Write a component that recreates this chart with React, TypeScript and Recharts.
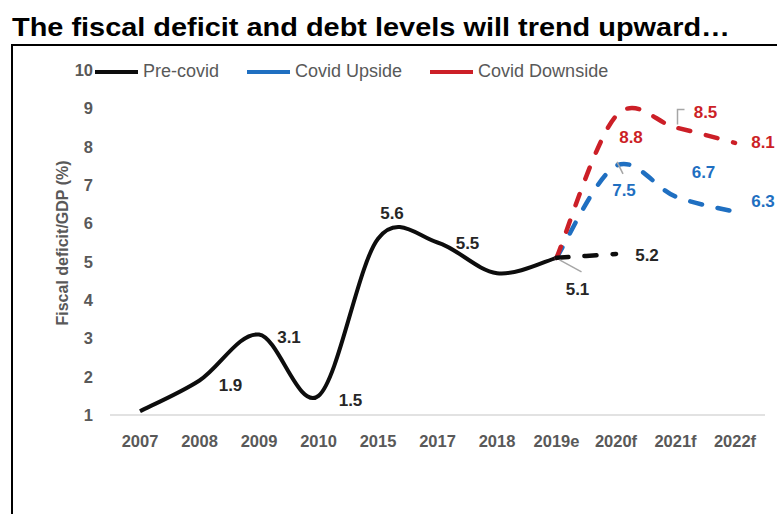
import { LineChart, Line, XAxis, YAxis, LabelList } from 'recharts'

const YEARS = ['2007', '2008', '2009', '2010', '2015', '2017', '2018', '2019e', '2020f', '2021f', '2022f']
const PRE_COVID = [1.1, 1.9, 3.1, 1.5, 5.6, 5.5, 4.7, 5.1, null, null, null]
const PRE_COVID_PROJ = [null, null, null, null, null, null, null, 5.1, 5.2, null, null]
const COVID_UPSIDE = [null, null, null, null, null, null, null, 5.1, 7.5, 6.7, 6.3]
const COVID_DOWNSIDE = [null, null, null, null, null, null, null, 5.1, 8.8, 8.5, 8.1]
const Y_TICKS = [1, 2, 3, 4, 5, 6, 7, 8, 9, 10]

const BLACK = '#0d0d0d'
const BLUE = '#1f6fc1'
const RED = '#cc1f27'
const GREY = '#595959'
const FONT = '"Liberation Sans", Arial, sans-serif'

const LEGEND = [
  { name: 'Pre-covid', color: BLACK },
  { name: 'Covid Upside', color: BLUE },
  { name: 'Covid Downside', color: RED },
]

const data = YEARS.map((year, i) => ({
  year,
  pre: PRE_COVID[i],
  preProj: PRE_COVID_PROJ[i],
  up: COVID_UPSIDE[i],
  down: COVID_DOWNSIDE[i],
}))

// label placement relative to the point
type Place = { dx: number; dy: number; leader?: number[][] }
const PRE_LABELS: Record<string, Place> = {
  '2008': { dx: 31, dy: 5 },
  '2009': { dx: 30, dy: 3 },
  '2010': { dx: 32, dy: 5 },
  '2015': { dx: 14, dy: -25 },
  '2017': { dx: 30, dy: 1 },
  '2019e': { dx: 21, dy: 32, leader: [[3, 2], [25, 14]] },
}
const PROJ_LABELS: Record<string, Place> = {
  '2020f': { dx: 31, dy: 1 },
}
const UP_LABELS: Record<string, Place> = {
  '2020f': { dx: 8, dy: 25, leader: [[1, -4], [7, 8]] },
  '2021f': { dx: 28, dy: -24 },
  '2022f': { dx: 28, dy: -10 },
}
const DOWN_LABELS: Record<string, Place> = {
  '2020f': { dx: 15, dy: 21 },
  '2021f': { dx: 30, dy: -15, leader: [[2, -3], [2, -18], [9, -18]] },
  '2022f': { dx: 28, dy: 0 },
}

// Excel-like smoothed line (Catmull-Rom as cubic beziers)
function smoothCurve(context: any) {
  let pts: number[][] = []
  return {
    areaStart() {},
    areaEnd() {},
    lineStart() {
      pts = []
    },
    point(x: number, y: number) {
      pts.push([+x, +y])
    },
    lineEnd() {
      const n = pts.length
      if (!n) return
      context.moveTo(pts[0][0], pts[0][1])
      for (let i = 0; i < n - 1; i++) {
        const p0 = pts[Math.max(i - 1, 0)]
        const p1 = pts[i]
        const p2 = pts[i + 1]
        const p3 = pts[Math.min(i + 2, n - 1)]
        context.bezierCurveTo(
          p1[0] + (p2[0] - p0[0]) / 6,
          p1[1] + (p2[1] - p0[1]) / 6,
          p2[0] - (p3[0] - p1[0]) / 6,
          p2[1] - (p3[1] - p1[1]) / 6,
          p2[0],
          p2[1]
        )
      }
    },
  }
}

function makeLabel(places: Record<string, Place>, color: string) {
  return (props: any) => {
    const { x, y, value, index } = props
    const place = places[YEARS[index]]
    if (value == null || !place || x == null || y == null) return null
    return (
      <g>
        {place.leader && (
          <polyline
            points={place.leader.map(([lx, ly]) => `${x + lx},${y + ly}`).join(' ')}
            fill="none"
            stroke="#a6a6a6"
            strokeWidth={1.5}
          />
        )}
        <text
          x={x + place.dx}
          y={y + place.dy}
          textAnchor="middle"
          dominantBaseline="central"
          fill={color}
          fontFamily={FONT}
          fontWeight="bold"
          fontSize={17}
        >
          {Number(value).toFixed(1)}
        </text>
      </g>
    )
  }
}

export default function App() {
  return (
    <div style={{ position: 'absolute', left: 0, top: 0, width: 777, height: 514, overflow: 'hidden', background: '#fff' }}>
      <svg width={777} height={44} style={{ position: 'absolute', left: 0, top: 0 }}>
        <text
          x={12}
          y={36}
          textLength={718}
          lengthAdjust="spacingAndGlyphs"
          fontFamily={FONT}
          fontWeight="bold"
          fontSize={26}
          fill="#000"
        >
          The fiscal deficit and debt levels will trend upward…
        </text>
      </svg>
      <div
        style={{
          position: 'absolute',
          left: 11,
          top: 44,
          width: 800,
          height: 500,
          borderLeft: '2px solid #000',
          borderTop: '2px solid #000',
        }}
      />
      <div style={{ position: 'absolute', left: 0, top: 0 }}>
        <LineChart width={777} height={514} data={data} margin={{ top: 70, right: 12, bottom: 69, left: 0 }}>
          <XAxis
            dataKey="year"
            height={30}
            padding={{ left: 30, right: 30 }}
            axisLine={{ stroke: '#d9d9d9', strokeWidth: 1.5 }}
            tickLine={false}
            tickSize={0}
            tickMargin={20}
            tick={{ fill: GREY, fontFamily: FONT, fontWeight: 'bold', fontSize: 16.5 }}
            interval={0}
          />
          <YAxis
            width={110}
            domain={[1, 10]}
            ticks={Y_TICKS}
            axisLine={false}
            tickLine={false}
            tickSize={0}
            tickMargin={17}
            tick={{ fill: GREY, fontFamily: FONT, fontWeight: 'bold', fontSize: 16.5 }}
            label={{
              content: () => (
                <text
                  transform="translate(62,243) rotate(-90)"
                  textAnchor="middle"
                  dominantBaseline="central"
                  fill={GREY}
                  fontFamily={FONT}
                  fontWeight="bold"
                  fontSize={16}
                >
                  Fiscal deficit/GDP (%)
                </text>
              ),
            }}
          />
          <Line
            dataKey="pre"
            name="Pre-covid"
            type={smoothCurve as any}
            stroke={BLACK}
            strokeWidth={4}
            dot={false}
            isAnimationActive={false}
          >
            <LabelList dataKey="pre" content={makeLabel(PRE_LABELS, '#262626')} />
          </Line>
          <Line
            dataKey="up"
            name="Covid Upside"
            type={smoothCurve as any}
            stroke={BLUE}
            strokeWidth={4.5}
            strokeDasharray="12 16"
            strokeLinecap="round"
            dot={false}
            isAnimationActive={false}
          >
            <LabelList dataKey="up" content={makeLabel(UP_LABELS, BLUE)} />
          </Line>
          <Line
            dataKey="down"
            name="Covid Downside"
            type={smoothCurve as any}
            stroke={RED}
            strokeWidth={4.5}
            strokeDasharray="12 16"
            strokeLinecap="round"
            dot={false}
            isAnimationActive={false}
          >
            <LabelList dataKey="down" content={makeLabel(DOWN_LABELS, RED)} />
          </Line>
          <Line
            dataKey="preProj"
            name="Pre-covid projection"
            type={smoothCurve as any}
            stroke={BLACK}
            strokeWidth={4.5}
            strokeDasharray="12 16"
            strokeLinecap="round"
            dot={false}
            isAnimationActive={false}
          >
            <LabelList dataKey="preProj" content={makeLabel(PROJ_LABELS, '#262626')} />
          </Line>
        </LineChart>
      </div>
      <div
        style={{
          position: 'absolute',
          left: 95,
          top: 61,
          display: 'flex',
          alignItems: 'center',
          fontFamily: FONT,
          fontSize: 18,
          color: GREY,
        }}
      >
        {LEGEND.map((item) => (
          <div key={item.name} style={{ display: 'flex', alignItems: 'center', marginRight: 28 }}>
            <svg width={43} height={6} style={{ marginRight: 5 }}>
              <line x1={0} y1={3} x2={43} y2={3} stroke={item.color} strokeWidth={4} />
            </svg>
            <span style={{ whiteSpace: 'nowrap' }}>{item.name}</span>
          </div>
        ))}
      </div>
    </div>
  )
}
